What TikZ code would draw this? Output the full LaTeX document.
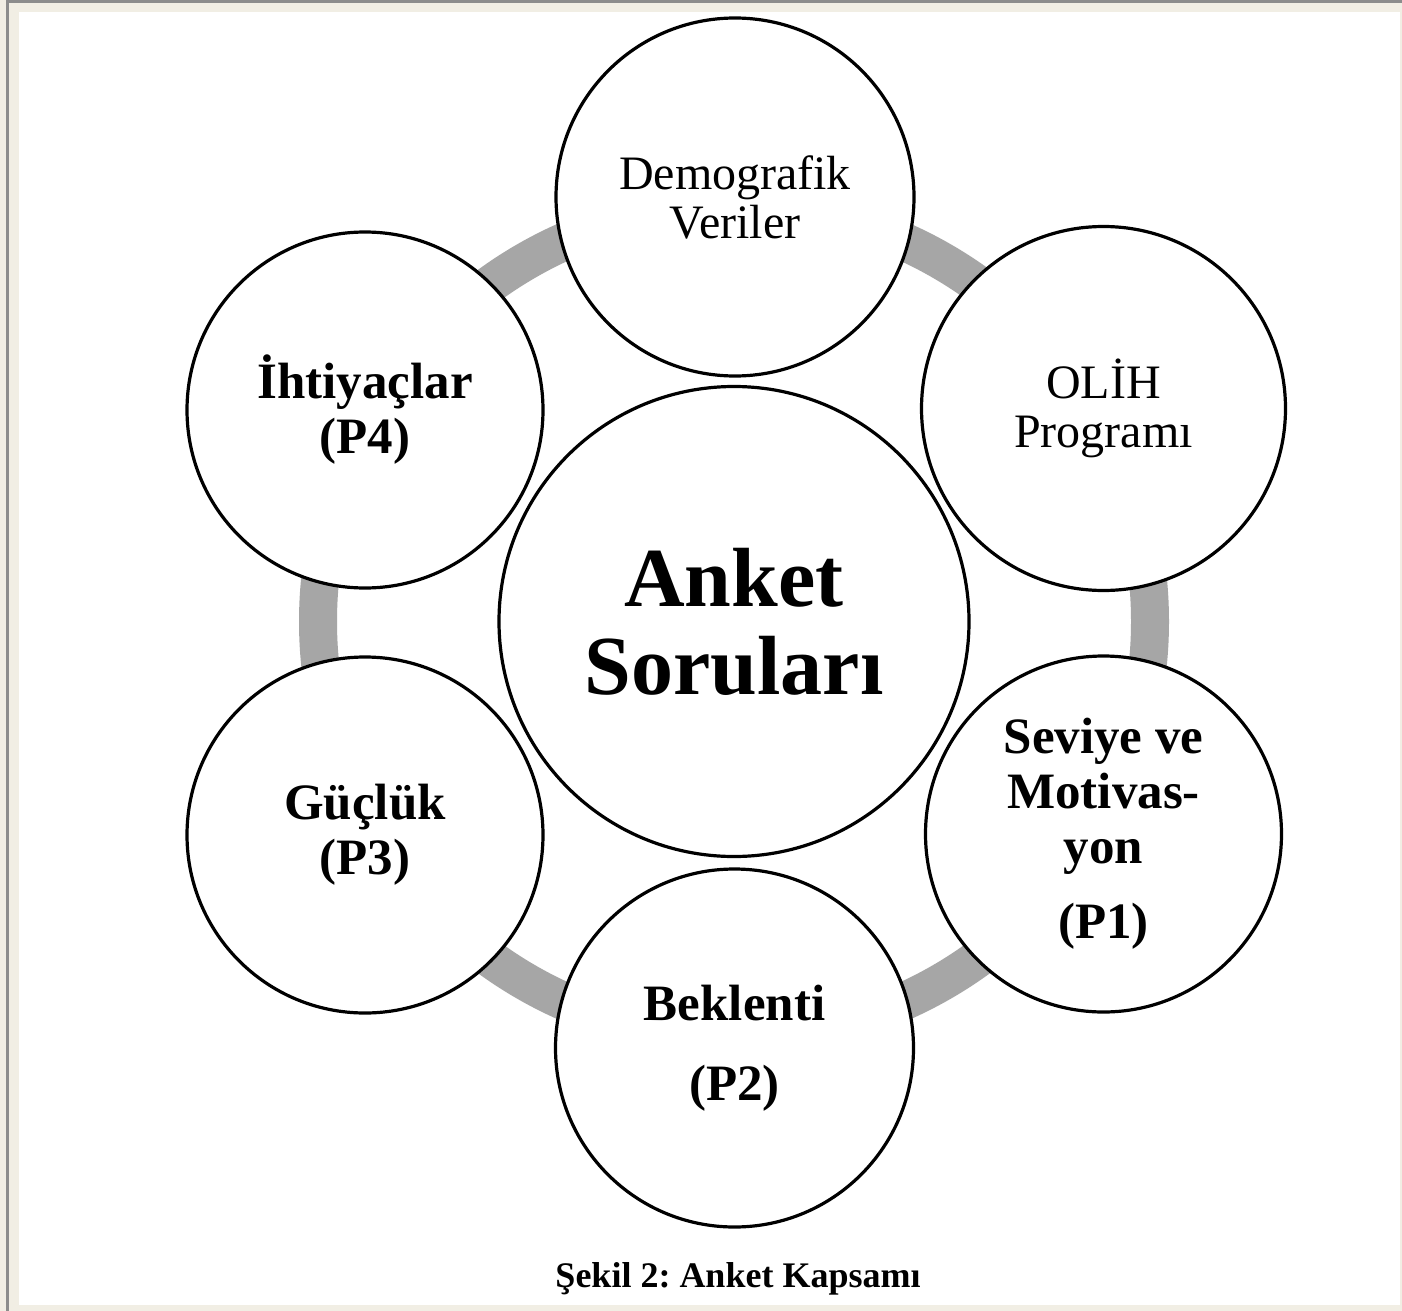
\documentclass[tikz,border=0pt]{standalone}
\usepackage{fontspec}
\setmainfont{Liberation Serif}
\frenchspacing
\definecolor{framebeige}{RGB}{241,238,228}
\definecolor{framegray}{RGB}{140,140,140}
\definecolor{ringgray}{RGB}{166,166,166}
\begin{document}
\begin{tikzpicture}[x=1pt,y=-1pt,
  bubble/.style={circle,draw=black,line width=3.2pt,fill=white,inner sep=0pt,align=center,text=black},
  plainfont/.style={font=\fontsize{48}{49}\selectfont},
  boldfont/.style={font=\fontsize{51}{55}\selectfont\bfseries},
  bigfont/.style={font=\fontsize{84}{88}\selectfont\bfseries},
  captionfont/.style={font=\fontsize{36}{40}\selectfont\bfseries}]
\useasboundingbox (0,0) rectangle (1402,1311);
% frame
\fill[framebeige] (0,0) rectangle (1402,1311);
\fill[framegray] (6,0) rectangle (9,1311);
\fill[framegray] (6,0) rectangle (1402,3);
\fill[white] (19,12) rectangle (1400,1305);
% ring
\coordinate (ctr) at (734,621.5);
\draw[ringgray, line width=38pt] (ctr) circle[radius=416];
% bubbles
\node[bubble, bigfont, minimum size=470] (anket) at (ctr) {Anket\\Soruları};
\node[bubble, plainfont, minimum size=358] (demo) at (735,197) {Demografik\\Veriler};
\node[bubble, plainfont, minimum size=364] (olih) at (1103.5,408.5) {OLİH\\Programı};
\node[bubble, boldfont, minimum size=356] (seviye) at (1103.5,834) {Seviye ve\\Motivas-\\yon\\[20pt](P1)};
\node[bubble, boldfont, minimum size=358] (bek) at (734.5,1048) {Beklenti\\[25pt](P2)};
\node[bubble, boldfont, minimum size=356] (guc) at (365,835) {Güçlük\\(P3)};
\node[bubble, boldfont, minimum size=356] (iht) at (365,410) {İhtiyaçlar\\(P4)};
% caption
\node[captionfont, anchor=base, inner sep=0pt] (cap) at (738,1287) {Şekil 2: Anket Kapsamı};
\end{tikzpicture}
\end{document}
